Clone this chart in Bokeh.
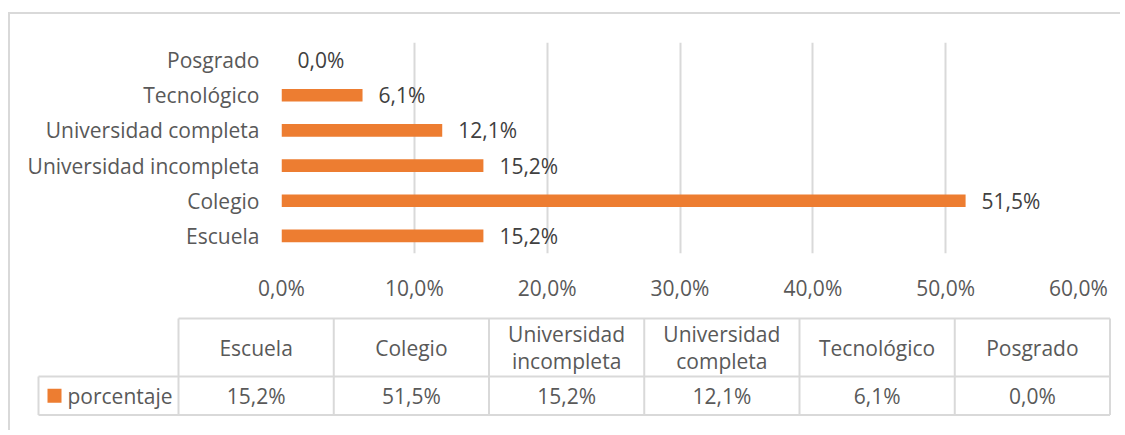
from bokeh.plotting import figure
from bokeh.models import Range1d, FactorRange, FixedTicker
from bokeh.layouts import column
from bokeh.core.properties import value
from bokeh.embed import file_html
from bokeh.resources import INLINE

# ---- data ----
categories = ["Escuela", "Colegio", "Universidad incompleta",
              "Universidad completa", "Tecnológico", "Posgrado"]
values = [15.2, 51.5, 15.2, 12.1, 6.1, 0.0]
table_headers = ["Escuela", "Colegio", "Universidad\nincompleta",
                 "Universidad\ncompleta", "Tecnológico", "Posgrado"]
series_name = "porcentaje"
tick_values = [0, 10, 20, 30, 40, 50, 60]
tick_labels = ["0,0%", "10,0%", "20,0%", "30,0%", "40,0%", "50,0%", "60,0%"]

def fmt(v):
    return f"{v:.1f}".replace(".", ",") + "%"

value_labels = [fmt(v) for v in values]

# ---- style ----
ORANGE = "#ED7D31"
TXT = "#595959"
GRID = "#d9d9d9"
FONT = "Open Sans"
FS = "21px"

W = 1110
# ---- bar chart ----
pA = figure(width=W, height=290, y_range=FactorRange(*categories),
            x_range=Range1d(0, 60), output_backend="svg", toolbar_location=None,
            min_border_left=271, min_border_right=42, min_border_top=28,
            min_border_bottom=50, frame_align=False)
pA.outline_line_color = None

pA.hbar(y=categories, right=values, height=0.36, fill_color=ORANGE, line_color=None)
pA.text(x=values, y=categories, text=value_labels, x_offset=16,
        text_align="left", text_baseline="middle",
        text_font=value(FONT), text_font_size=FS, text_color="#404040")

pA.ygrid.grid_line_color = None
pA.xgrid.grid_line_color = GRID
pA.xgrid.grid_line_width = 2

xa = pA.xaxis[0]
xa.ticker = FixedTicker(ticks=tick_values)
xa.major_label_overrides = {t: l for t, l in zip(tick_values, tick_labels)}
xa.axis_line_color = None
xa.major_tick_line_color = None
xa.minor_tick_line_color = None
xa.major_tick_out = 0
xa.major_tick_in = 0
xa.major_label_standoff = 20
xa.major_label_text_font = FONT
xa.major_label_text_font_size = FS
xa.major_label_text_color = TXT

ya = pA.yaxis[0]
ya.axis_line_color = None
ya.major_tick_line_color = None
ya.minor_tick_line_color = None
ya.major_tick_out = 0
ya.major_tick_in = 0
ya.major_label_standoff = 22
ya.major_label_text_font = FONT
ya.major_label_text_font_size = FS
ya.major_label_text_color = TXT

# ---- data table ----
X0, X1 = 11, 11 + W
Y0, Y1 = 305, 431
pB = figure(width=W, height=Y1 - Y0, x_range=Range1d(X0, X1), y_range=Range1d(Y1, Y0),
            output_backend="svg", toolbar_location=None,
            x_axis_type=None, y_axis_type=None,
            min_border=0, min_border_left=0, min_border_right=0,
            min_border_top=0, min_border_bottom=0, frame_align=False)
pB.outline_line_color = None
pB.grid.visible = False

T_LEFT, T_RIGHT = 179, 1110.5
LEG_LEFT = 39
H_TOP, H_SEP, H_BOT = 319, 377, 415.5
n = len(table_headers)
cw = (T_RIGHT - T_LEFT) / n
edges = [T_LEFT + i * cw for i in range(n + 1)]
centers = [T_LEFT + (i + 0.5) * cw for i in range(n)]

sx0 = [T_LEFT, LEG_LEFT, LEG_LEFT] + edges + [LEG_LEFT]
sx1 = [T_RIGHT, T_RIGHT, T_RIGHT] + edges + [LEG_LEFT]
sy0 = [H_TOP, H_SEP, H_BOT] + [H_TOP] * (n + 1) + [H_SEP]
sy1 = [H_TOP, H_SEP, H_BOT] + [H_BOT] * (n + 1) + [H_BOT]
pB.segment(x0=sx0, y0=sy0, x1=sx1, y1=sy1, line_color=GRID, line_width=2)

pB.text(x=centers, y=[(H_TOP + H_SEP) / 2] * n, text=table_headers,
        text_align="center", text_baseline="middle", text_line_height=0.95,
        text_font=value(FONT), text_font_size=FS, text_color=TXT)
pB.text(x=centers, y=[(H_SEP + H_BOT) / 2] * n, text=value_labels,
        text_align="center", text_baseline="middle",
        text_font=value(FONT), text_font_size=FS, text_color=TXT)

# legend key + series name
pB.scatter(x=[55], y=[(H_SEP + H_BOT) / 2], marker="square", size=14,
           fill_color=ORANGE, line_color=None)
pB.text(x=[68], y=[(H_SEP + H_BOT) / 2], text=[series_name],
        text_align="left", text_baseline="middle",
        text_font=value(FONT), text_font_size=FS, text_color=TXT)

layout = column(pA, pB, spacing=0, margin=(12, 0, 0, 8),
                styles={"border-left": "2px solid #d9d9d9",
                        "border-top": "2px solid #d9d9d9"})

open("out.html", "w").write(file_html(layout, INLINE))
